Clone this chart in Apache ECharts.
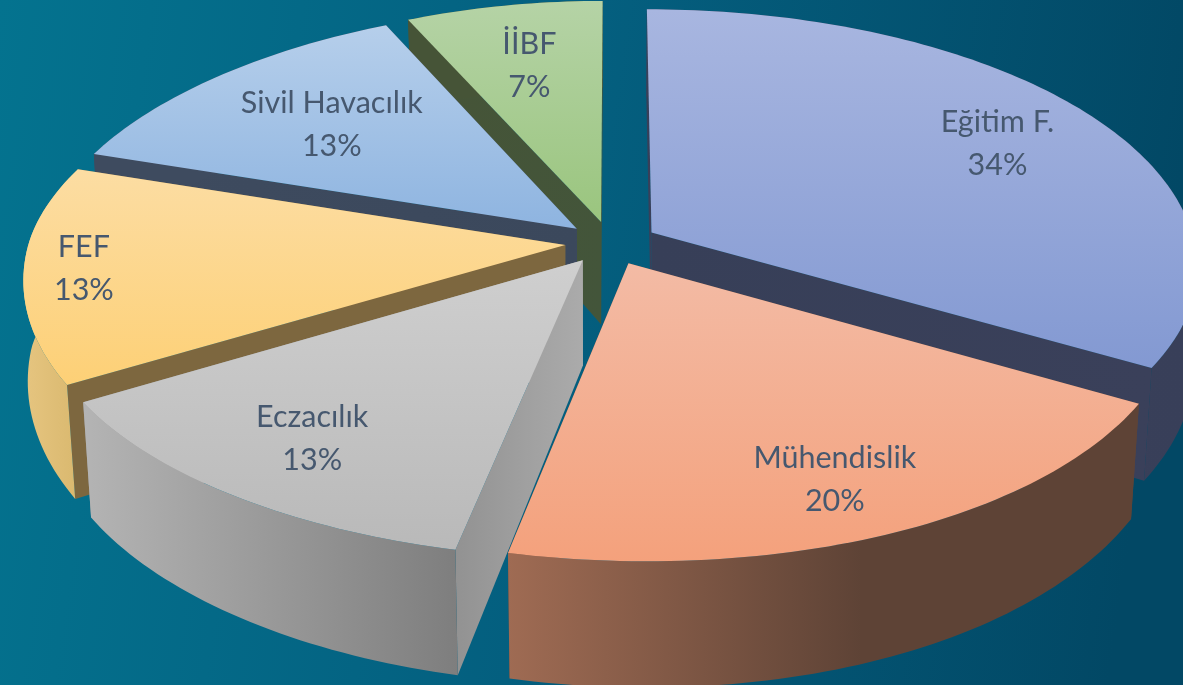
<!DOCTYPE html>
<html><head><meta charset="utf-8">
<style>html,body{margin:0;padding:0;background:#045a7a}#c{width:1183px;height:685px}</style>
<script src="https://cdn.jsdelivr.net/npm/echarts@6/dist/echarts.min.js"></script>
</head><body><div id="c"></div>
<script>
const categories = ['Eğitim F.', 'Mühendislik', 'Eczacılık', 'FEF', 'Sivil Havacılık', 'İİBF'];
const shares = [34, 20, 13, 13, 13, 7];

const topColors = [['#a8b6e0','#8399d2'],['#f3bba5','#f4a17c'],['#cfcfcf','#b9b9b9'],['#fcdda3','#fdd076'],['#b6cfeb','#8eb4e0'],['#b5d3a6','#9ac57e']];
const outerColors = [['#3a415a','#383f59'],['#9f6b53','#5e4336','#5e4336'],['#b4b4b4','#7e7e7e'],['#e6c580','#d8b76d'],['#3e4b5f','#3e4b5f'],['#465437','#465437']];
const radialColors = [['#373f58','#3a405a'],['#5e4336','#5e4336'],['#929292','#ababab'],['#7d673f','#7d673f'],['#3e4b5f','#3b485c'],['#465437','#43553a']];
const labelRadius = [0.77, 0.82, 0.78, 0.89, 0.66, 0.7];

const view = {cx:611, cy:243, R:543, tilt:0.467, persp:0.13, explode:0.0856, frontShear:29, leftScale:0.988, backPinch:0.04, backScale:1.005, twist:10, depth:104, botX:0.985, bulge:0.01, botY:1.07};

function project(X, Y){
  const s = 1/(1 - view.persp*Y);
  let xs = 1;
  if (X < 0) xs = Y < 0 ? view.leftScale - view.backPinch*Y*Y : view.leftScale;
  let x = view.cx + view.R*X*s*xs;
  let dy = view.R*view.tilt*Y*s;
  if (Y > 0) { x += view.frontShear*Y*Y; dy -= view.twist*X*Math.min(1, Y*2); }
  else dy *= view.backScale;
  return [x, view.cy + dy];
}
function below(p){
  const f = view.botX + view.bulge*Math.max(0, 1 - Math.abs(p[1]-view.cy)/140);
  return [view.cx + (p[0]-view.cx)*f, view.cy + (p[1]-view.cy)*view.botY + view.depth];
}

const total = shares.reduce((a,b)=>a+b,0);
let acc = 0;
const slices = shares.map(v=>{
  const a0 = acc/total*Math.PI*2; acc += v; const a1 = acc/total*Math.PI*2;
  return {a0, a1, mid:(a0+a1)/2};
});
const depthRank = {};
slices.map((s,i)=>[-Math.cos(s.mid),i]).sort((a,b)=>a[0]-b[0]).forEach((d,r)=>depthRank[d[1]]=r);

function pointOf(sl, r, th){
  return project(r*Math.sin(th)+view.explode*Math.sin(sl.mid), -r*Math.cos(th)-view.explode*Math.cos(sl.mid));
}
function stopsOf(c){
  if (c.length === 3) return [{offset:0,color:c[0]},{offset:0.56,color:c[1]},{offset:1,color:c[2]}];
  return [{offset:0,color:c[0]},{offset:1,color:c[1]}];
}
function hGrad(pts, c){
  const xs = pts.map(p=>p[0]);
  return new echarts.graphic.LinearGradient(Math.min(...xs),0,Math.max(...xs),0,stopsOf(c),true);
}
function vGrad(pts, c){
  const ys = pts.map(p=>p[1]);
  return new echarts.graphic.LinearGradient(0,Math.min(...ys),0,Math.max(...ys),stopsOf(c),true);
}
function poly(points, fill, z2){
  return {type:'polygon', shape:{points}, style:{fill, stroke:null}, z2, silent:true};
}
function renderItem(params, api){
  const i = api.value(0), sl = slices[i], z = depthRank[i]*10;
  const n = Math.max(8, Math.ceil((sl.a1-sl.a0)/0.02));
  const rim = [];
  for (let k=0;k<=n;k++) rim.push(pointOf(sl,1,sl.a0+(sl.a1-sl.a0)*k/n));
  const apex = pointOf(sl,0,0);
  const rimB = rim.map(below), apexB = below(apex);
  const startWall = [apex, rim[0], rimB[0], apexB];
  const endWall = [apex, rim[n], rimB[n], apexB];
  const outer = rim.concat(rimB.slice().reverse());
  const leftSide = sl.mid > Math.PI;
  const wallOrder = leftSide ? [endWall,startWall] : [startWall,endWall];
  const children = [
    poly(wallOrder[0], hGrad(wallOrder[0], radialColors[i]), z),
    poly(wallOrder[1], hGrad(wallOrder[1], radialColors[i]), z+1),
    poly(outer, hGrad(outer, outerColors[i]), z+2),
    poly([apex].concat(rim), vGrad([apex].concat(rim), topColors[i]), z+3)
  ];
  const lp = pointOf(sl, labelRadius[i], sl.mid);
  children.push({type:'text', z2:1000, silent:true, x:lp[0], y:lp[1], style:{
    text:categories[i]+'\n'+api.value(1)+'%',
    fill:'#46586f', font:'30.5px Lato', align:'center', verticalAlign:'middle', lineHeight:43
  }});
  return {type:'group', children};
}
const chart = echarts.init(document.getElementById('c'), null, {renderer:'canvas'});
chart.setOption({
  animation:false,
  backgroundColor:new echarts.graphic.LinearGradient(0,0,1,0.25,[{offset:0,color:'#04738f'},{offset:0.5,color:'#045f7f'},{offset:1,color:'#024865'}]),
  series:[{type:'custom', coordinateSystem:'none', renderItem, clip:false,
    data:categories.map((c,i)=>[i,shares[i]])}]
});
</script></body></html>
